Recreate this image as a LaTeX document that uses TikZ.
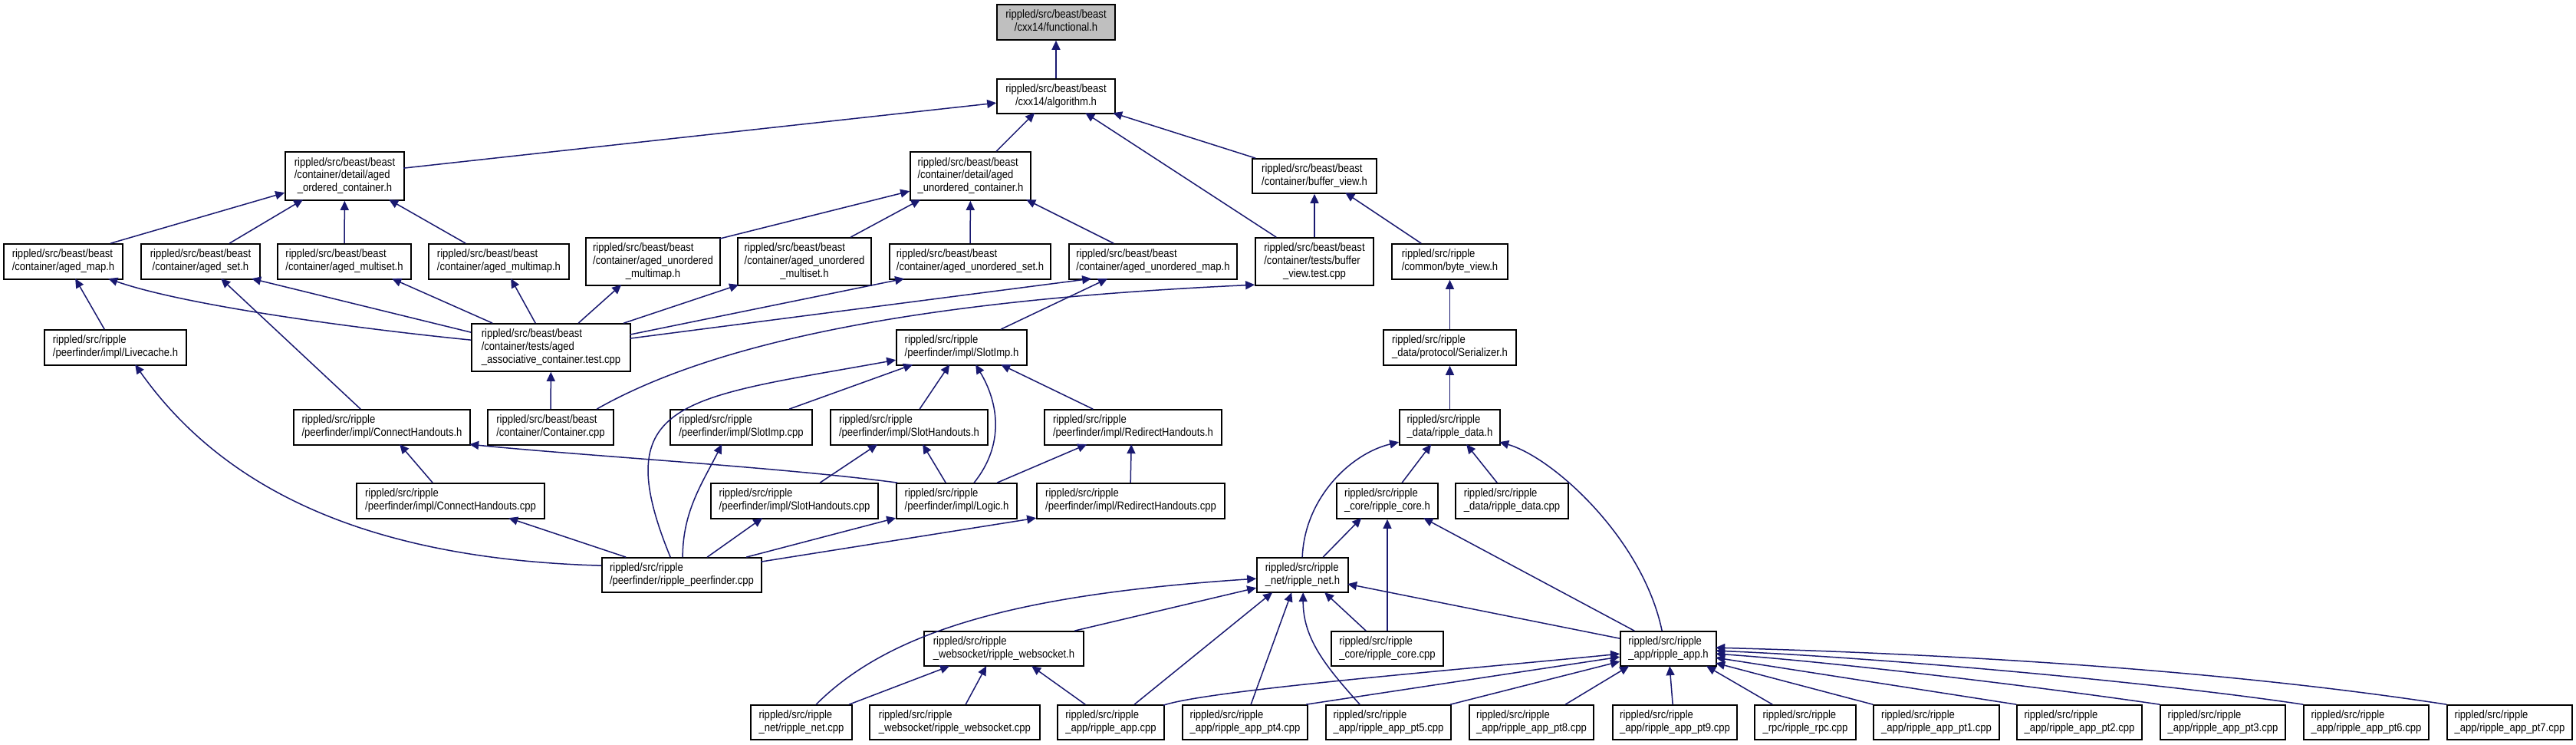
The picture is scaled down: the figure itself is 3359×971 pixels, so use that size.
\documentclass[tikz,border=0pt]{standalone}
\usepackage{fontspec}
\setmainfont{Liberation Sans}[FakeStretch=0.87]
\usetikzlibrary{arrows.meta}
\definecolor{edgeblue}{RGB}{25,25,112}
\definecolor{boxgray}{RGB}{191,191,191}
\newcommand\twol[2]{\begin{tabular}{@{}l@{}}#1\\\multicolumn{1}{@{}c@{}}{#2}\end{tabular}}
\newcommand\threel[3]{\begin{tabular}{@{}l@{}}#1\\#2\\\multicolumn{1}{@{}c@{}}{#3}\end{tabular}}
\newcommand\bx[7][]{\node[filebox,#1,minimum width={(#5-#3)*0.3pt},minimum height={(#6-#4)*0.3pt}] (#2) at ({(#3+#5)/2},{(#4+#6)/2}) {#7};}
\newcommand\edgeS[6]{\draw[dep] ([shift={(#2,#3)}]#1.north west) -- ([shift={(#5,#6)}]#4.north west);}
\newcommand\edgeC[8]{\draw[dep] ([shift={(#2,#3)}]#1.north west) .. controls +(#4) and +(#5) .. ([shift={(#7,#8)}]#6.north west);}
\begin{document}
\begin{tikzpicture}[x=0.3pt,y=-0.3pt,
  filebox/.style={draw=black,line width=0.5pt,fill=white,inner sep=0pt,font=\fontsize{4.5}{5.05}\selectfont},
  dep/.style={draw=edgeblue,line width=0.45pt,-{Triangle[length=3.6pt,width=3.3pt]}}]
\useasboundingbox (0,0) rectangle (3359,971);
\fill[white] (0,0) rectangle (3359,971);
% nodes
\bx[fill=boxgray]{fun}{1300}{6}{1454}{52}{\twol{rippled/src/beast/beast}{/cxx14/functional.h}}
\bx{alg}{1300}{103}{1454}{148}{\twol{rippled/src/beast/beast}{/cxx14/algorithm.h}}
\bx{aoc}{372}{198}{527}{261}{\threel{rippled/src/beast/beast}{/container/detail/aged}{\_ordered\_container.h}}
\bx{auc}{1187}{198}{1344}{261}{\threel{rippled/src/beast/beast}{/container/detail/aged}{\_unordered\_container.h}}
\bx{bvh}{1633}{207}{1795}{252}{\twol{rippled/src/beast/beast}{/container/buffer\_view.h}}
\bx{amap}{5}{318}{160}{364}{\twol{rippled/src/beast/beast}{/container/aged\_map.h}}
\bx{aset}{184}{318}{339}{364}{\twol{rippled/src/beast/beast}{/container/aged\_set.h}}
\bx{amset}{362}{318}{536}{364}{\twol{rippled/src/beast/beast}{/container/aged\_multiset.h}}
\bx{ammap}{559}{318}{742}{364}{\twol{rippled/src/beast/beast}{/container/aged\_multimap.h}}
\bx{aummap}{764}{310}{939}{372}{\threel{rippled/src/beast/beast}{/container/aged\_unordered}{\_multimap.h}}
\bx{aumset}{962}{310}{1136}{372}{\threel{rippled/src/beast/beast}{/container/aged\_unordered}{\_multiset.h}}
\bx{auset}{1160}{318}{1370}{364}{\twol{rippled/src/beast/beast}{/container/aged\_unordered\_set.h}}
\bx{aumap}{1394}{318}{1613}{364}{\twol{rippled/src/beast/beast}{/container/aged\_unordered\_map.h}}
\bx{bvt}{1637}{310}{1791}{372}{\threel{rippled/src/beast/beast}{/container/tests/buffer}{\_view.test.cpp}}
\bx{byv}{1815}{318}{1966}{364}{\twol{rippled/src/ripple}{/common/byte\_view.h}}
\bx{live}{58}{430}{243}{476}{\twol{rippled/src/ripple}{/peerfinder/impl/Livecache.h}}
\bx{aat}{615}{422}{822}{484}{\threel{rippled/src/beast/beast}{/container/tests/aged}{\_associative\_container.test.cpp}}
\bx{simph}{1169}{430}{1339}{476}{\twol{rippled/src/ripple}{/peerfinder/impl/SlotImp.h}}
\bx{ser}{1804}{430}{1977}{476}{\twol{rippled/src/ripple}{\_data/protocol/Serializer.h}}
\bx{chh}{383}{534}{613}{580}{\twol{rippled/src/ripple}{/peerfinder/impl/ConnectHandouts.h}}
\bx{cont}{636}{534}{800}{580}{\twol{rippled/src/beast/beast}{/container/Container.cpp}}
\bx{simpc}{874}{534}{1059}{580}{\twol{rippled/src/ripple}{/peerfinder/impl/SlotImp.cpp}}
\bx{shh}{1083}{534}{1288}{580}{\twol{rippled/src/ripple}{/peerfinder/impl/SlotHandouts.h}}
\bx{rhh}{1362}{534}{1593}{580}{\twol{rippled/src/ripple}{/peerfinder/impl/RedirectHandouts.h}}
\bx{rdh}{1825}{534}{1956}{580}{\twol{rippled/src/ripple}{\_data/ripple\_data.h}}
\bx{chc}{465}{630}{710}{676}{\twol{rippled/src/ripple}{/peerfinder/impl/ConnectHandouts.cpp}}
\bx{shc}{927}{630}{1145}{676}{\twol{rippled/src/ripple}{/peerfinder/impl/SlotHandouts.cpp}}
\bx{logic}{1169}{630}{1326}{676}{\twol{rippled/src/ripple}{/peerfinder/impl/Logic.h}}
\bx{rhc}{1352}{630}{1597}{676}{\twol{rippled/src/ripple}{/peerfinder/impl/RedirectHandouts.cpp}}
\bx{rch}{1743}{630}{1875}{676}{\twol{rippled/src/ripple}{\_core/ripple\_core.h}}
\bx{rdc}{1898}{630}{2045}{676}{\twol{rippled/src/ripple}{\_data/ripple\_data.cpp}}
\bx{rpf}{785}{727}{993}{772}{\twol{rippled/src/ripple}{/peerfinder/ripple\_peerfinder.cpp}}
\bx{rnh}{1639}{727}{1758}{772}{\twol{rippled/src/ripple}{\_net/ripple\_net.h}}
\bx{rwh}{1205}{823}{1413}{868}{\twol{rippled/src/ripple}{\_websocket/ripple\_websocket.h}}
\bx{rcc}{1736}{823}{1882}{868}{\twol{rippled/src/ripple}{\_core/ripple\_core.cpp}}
\bx{rah}{2113}{823}{2238}{868}{\twol{rippled/src/ripple}{\_app/ripple\_app.h}}
\bx{rnc}{979}{919}{1111}{964}{\twol{rippled/src/ripple}{\_net/ripple\_net.cpp}}
\bx{rwc}{1134}{919}{1356}{964}{\twol{rippled/src/ripple}{\_websocket/ripple\_websocket.cpp}}
\bx{rac}{1379}{919}{1518}{964}{\twol{rippled/src/ripple}{\_app/ripple\_app.cpp}}
\bx{p4}{1542}{919}{1705}{964}{\twol{rippled/src/ripple}{\_app/ripple\_app\_pt4.cpp}}
\bx{p5}{1729}{919}{1892}{964}{\twol{rippled/src/ripple}{\_app/ripple\_app\_pt5.cpp}}
\bx{p8}{1916}{919}{2078}{964}{\twol{rippled/src/ripple}{\_app/ripple\_app\_pt8.cpp}}
\bx{p9}{2103}{919}{2265}{964}{\twol{rippled/src/ripple}{\_app/ripple\_app\_pt9.cpp}}
\bx{rpc}{2288}{919}{2420}{964}{\twol{rippled/src/ripple}{\_rpc/ripple\_rpc.cpp}}
\bx{p1}{2443}{919}{2607}{964}{\twol{rippled/src/ripple}{\_app/ripple\_app\_pt1.cpp}}
\bx{p2}{2630}{919}{2793}{964}{\twol{rippled/src/ripple}{\_app/ripple\_app\_pt2.cpp}}
\bx{p3}{2817}{919}{2980}{964}{\twol{rippled/src/ripple}{\_app/ripple\_app\_pt3.cpp}}
\bx{p6}{3004}{919}{3167}{964}{\twol{rippled/src/ripple}{\_app/ripple\_app\_pt6.cpp}}
\bx{p7}{3191}{919}{3354}{964}{\twol{rippled/src/ripple}{\_app/ripple\_app\_pt7.cpp}}
% edges
\draw[dep] (alg) -- (fun);
\edgeS{aoc}{155}{22}{alg}{0}{32}
\edgeS{auc}{113}{0}{alg}{50}{45}
\edgeS{bvh}{5}{0}{alg}{152}{45}
\edgeS{bvt}{28}{0}{alg}{116}{45}
\edgeS{amap}{140}{0}{aoc}{0}{54}
\edgeS{aset}{116}{0}{aoc}{24}{63}
\draw[dep] (amset) -- (aoc);
\edgeS{ammap}{49}{0}{aoc}{136}{63}
\edgeS{aummap}{175}{2}{auc}{0}{52}
\edgeS{aumset}{148}{0}{auc}{14}{63}
\draw[dep] (auset) -- (auc);
\edgeS{aumap}{59}{0}{auc}{152}{63}
\draw[dep] (bvt) -- (bvh);
\edgeS{byv}{39}{0}{bvh}{122}{45}
\edgeS{live}{79}{0}{amap}{94}{46}
\edgeC{aat}{0}{22}{-150,-15}{100,35}{amap}{137}{46}
\edgeS{aat}{0}{12}{aset}{145}{46}
\edgeS{aat}{28}{0}{amset}{150}{46}
\edgeS{aat}{84}{0}{ammap}{108}{46}
\edgeS{aat}{140}{0}{aummap}{47}{62}
\edgeS{aat}{199}{0}{aumset}{2}{62}
\edgeS{aat}{207}{15}{auset}{20}{46}
\edgeS{aat}{207}{20}{aumap}{30}{46}
\draw[dep] (cont) -- (aat);
\edgeC{cont}{143}{0}{200,-114}{-300,14}{bvt}{0}{62}
\edgeS{simph}{137}{0}{aumap}{51}{46}
\edgeS{chh}{88}{0}{aset}{105}{46}
\draw[dep] (ser) -- (byv);
\draw[dep] (rdh) -- (ser);
\edgeS{simpc}{156}{0}{simph}{22}{46}
\edgeS{shh}{117}{0}{simph}{70}{46}
\edgeC{logic}{102}{0}{40,-50}{30,50}{simph}{104}{46}
\edgeS{rhh}{64}{0}{simph}{137}{46}
\edgeC{rpf}{90}{0}{-85,-207}{-276,50}{simph}{0}{40}
\edgeC{rpf}{106}{0}{0,-60}{-25,50}{simpc}{68}{46}
\edgeC{rpf}{0}{11}{-285,-8}{123,174}{live}{119}{46}
\edgeS{rpf}{32}{0}{chc}{199}{46}
\edgeS{chc}{100}{0}{chh}{139}{46}
\edgeC{logic}{2}{0}{-150,-20}{150,15}{chh}{230}{46}
\edgeS{shc}{143}{0}{shh}{62}{46}
\edgeS{logic}{65}{0}{shh}{121}{46}
\edgeS{logic}{132}{0}{rhh}{56}{46}
\edgeS{rhc}{123}{0}{rhh}{114}{46}
\edgeS{rpf}{138}{0}{shc}{68}{46}
\edgeS{rpf}{189}{0}{logic}{0}{46}
\edgeS{rpf}{208}{6}{rhc}{0}{46}
\edgeC{rnh}{60}{0}{3,-77}{-63,15}{rdh}{0}{43}
\edgeS{rch}{86}{0}{rdh}{42}{46}
\edgeS{rdc}{55}{0}{rdh}{88}{46}
\edgeC{rah}{55}{0}{-25,-120}{70,20}{rdh}{131}{43}
\edgeS{rnh}{87}{0}{rch}{33}{46}
\draw[dep] (rcc) -- (rch);
\edgeS{rah}{19}{0}{rch}{114}{46}
\edgeS{rah}{0}{10}{rnh}{119}{35}
\edgeS{rcc}{46}{0}{rnh}{89}{46}
\edgeS{rwh}{197}{0}{rnh}{0}{40}
\edgeC{rnc}{86}{0}{100,-100}{-300,20}{rnh}{0}{28}
\edgeS{rac}{101}{0}{rnh}{21}{46}
\edgeS{p4}{90}{0}{rnh}{46}{46}
\edgeC{p5}{45}{0}{-45,-50}{0,60}{rnh}{61}{46}
\edgeS{rnc}{129}{0}{rwh}{34}{46}
\edgeS{rwc}{126}{0}{rwh}{82}{46}
\edgeS{rac}{37}{0}{rwh}{141}{46}
\edgeC{rac}{139}{1}{60,-20}{-200,20}{rah}{0}{30}
\edgeS{p4}{162}{0}{rah}{0}{34}
\edgeS{p5}{163}{0}{rah}{0}{40}
\edgeS{p8}{126}{0}{rah}{12}{46}
\edgeS{p9}{79}{0}{rah}{65}{46}
\edgeS{rpc}{24}{0}{rah}{113}{46}
\edgeS{p1}{0}{0}{rah}{125}{42}
\edgeS{p2}{0}{0}{rah}{125}{35}
\edgeC{p3}{0}{0}{-150,-22}{150,10}{rah}{125}{30}
\edgeC{p6}{0}{0}{-200,-30}{200,8}{rah}{125}{26}
\edgeC{p7}{0}{0}{-300,-46}{300,8}{rah}{125}{22}
\end{tikzpicture}
\end{document}
